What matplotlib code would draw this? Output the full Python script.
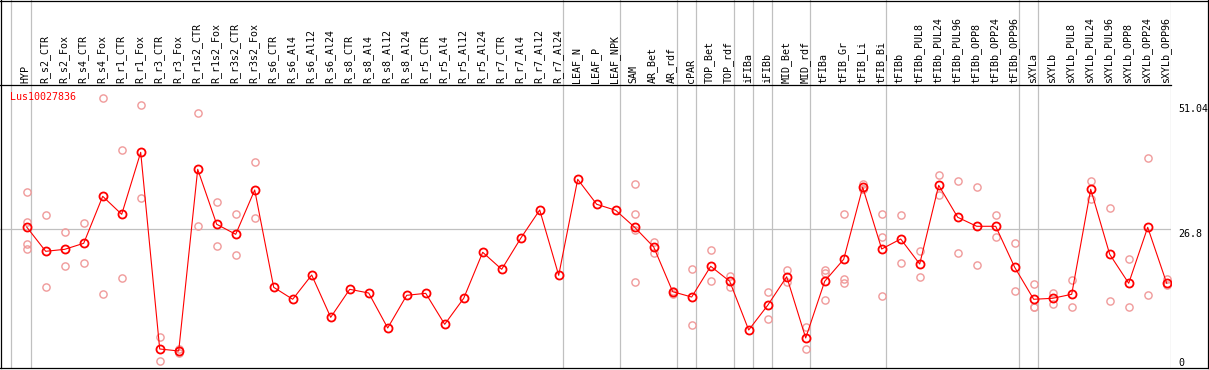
import matplotlib
matplotlib.use("Agg")
import matplotlib.pyplot as plt
from matplotlib.lines import Line2D
from matplotlib.transforms import blended_transform_factory

# ---------------- data ----------------
gene = "Lus10027836"
categories = [
    "HYP", "R_s2_CTR", "R_s2_Fox", "R_s4_CTR", "R_s4_Fox", "R_r1_CTR", "R_r1_Fox",
    "R_r3_CTR", "R_r3_Fox", "R_r1s2_CTR", "R_r1s2_Fox", "R_r3s2_CTR", "R_r3s2_Fox",
    "R_s6_CTR", "R_s6_Al4", "R_s6_Al12", "R_s6_Al24", "R_s8_CTR", "R_s8_Al4",
    "R_s8_Al12", "R_s8_Al24", "R_r5_CTR", "R_r5_Al4", "R_r5_Al12", "R_r5_Al24",
    "R_r7_CTR", "R_r7_Al4", "R_r7_Al12", "R_r7_Al24", "LEAF_N", "LEAF_P", "LEAF_NPK",
    "SAM", "AR_Bet", "AR_rdf", "cPAR", "TOP_Bet", "TOP_rdf", "iFIBa", "iFIBb",
    "MID_Bet", "MID_rdf", "tFIBa", "tFIB_Gr", "tFIB_Li", "tFIB_Bi", "tFIBb",
    "tFIBb_PUL8", "tFIBb_PUL24", "tFIBb_PUL96", "tFIBb_OPP8", "tFIBb_OPP24",
    "tFIBb_OPP96", "sXYLa", "sXYLb", "sXYLb_PUL8", "sXYLb_PUL24", "sXYLb_PUL96",
    "sXYLb_OPP8", "sXYLb_OPP24", "sXYLb_OPP96",
]
mean_values = [
    27.10, 22.37, 22.76, 23.93, 33.07, 29.57, 41.63, 3.37, 2.98, 38.33,
    27.63, 25.68, 34.30, 15.37, 13.04, 17.76, 9.53, 14.98, 14.26, 7.45,
    13.81, 14.20, 8.17, 13.23, 22.18, 18.87, 24.90, 30.41, 17.70, 36.38,
    31.52, 30.35, 27.04, 23.21, 14.51, 13.48, 19.46, 16.54, 7.06, 11.87,
    17.43, 5.51, 16.54, 20.82, 34.82, 22.82, 24.77, 19.90, 35.21, 28.99,
    27.24, 27.24, 19.26, 13.04, 13.23, 14.01, 34.44, 21.79, 16.15, 27.04,
    16.15,
]
replicates = {
    "HYP": [33.85, 28.07, 23.74, 22.76],
    "R_s2_CTR": [29.38, 15.43],
    "R_s2_Fox": [26.07, 19.46],
    "R_s4_CTR": [27.82, 20.04],
    "R_s4_Fox": [52.14, 14.07],
    "R_r1_CTR": [42.02, 17.12],
    "R_r1_Fox": [50.78, 32.68],
    "R_r3_CTR": [5.70, 1.03],
    "R_r3_Fox": [3.31, 2.53],
    "R_r1s2_CTR": [49.22, 27.24],
    "R_r1s2_Fox": [31.91, 23.35],
    "R_r3s2_CTR": [29.57, 21.60],
    "R_r3s2_Fox": [39.69, 28.79],
    "SAM": [35.41, 29.57, 26.52, 16.40],
    "AR_Bet": [24.24, 22.10],
    "AR_rdf": [14.65, 14.01],
    "cPAR": [18.87, 7.98],
    "TOP_Bet": [22.57, 16.60],
    "TOP_rdf": [17.57, 15.49],
    "iFIBb": [14.40, 9.26],
    "MID_Bet": [18.68, 16.40],
    "MID_rdf": [7.59, 3.31],
    "tFIBa": [18.68, 18.21, 12.90],
    "tFIB_Gr": [29.57, 16.98, 16.15],
    "tFIB_Li": [35.41, 34.55, 34.49],
    "tFIB_Bi": [29.57, 25.10, 13.68],
    "tFIBb": [29.38, 20.04],
    "tFIBb_PUL8": [22.37, 17.37],
    "tFIBb_PUL24": [37.16, 33.27],
    "tFIBb_PUL96": [35.99, 21.98],
    "tFIBb_OPP8": [34.82, 19.65],
    "tFIBb_OPP24": [29.38, 25.10],
    "tFIBb_OPP96": [23.93, 14.59],
    "sXYLa": [15.95, 11.60, 11.54],
    "sXYLb": [14.20, 12.18],
    "sXYLb_PUL8": [16.73, 11.48],
    "sXYLb_PUL24": [35.99, 32.61],
    "sXYLb_PUL96": [30.74, 12.65],
    "sXYLb_OPP8": [20.82, 11.48],
    "sXYLb_OPP24": [40.47, 13.81],
    "sXYLb_OPP96": [16.93, 15.76],
}
group_ends = ["HYP", "R_r7_Al24", "LEAF_NPK", "AR_rdf", "cPAR", "TOP_rdf", "iFIBa",
              "iFIBb", "MID_rdf", "tFIB_Bi", "tFIBb_OPP96", "sXYLa", "sXYLb_OPP96"]
y_ticks = [51.04, 26.8, 0]

# ---------------- layout ----------------
W, H = 1209, 370
fig = plt.figure(figsize=(W / 100, H / 100), dpi=100)
font = "DejaVu Sans Mono"
fs = 7.2

x_step = 19.0          # px per category
x0_px = 26.7           # px of first category
plot_right_px = 1170.7
header_px = 85
bottom_px = 368

xmin = -x0_px / x_step
xmax = (plot_right_px - x0_px) / x_step

ax = fig.add_axes([0, (H - bottom_px) / H, plot_right_px / W, (bottom_px - header_px) / H])
hx = fig.add_axes([0, (H - header_px) / H, plot_right_px / W, header_px / H], sharex=ax)

px_per_unit = 5.14
zero_px = 366.3
ymin = -(bottom_px - zero_px) / px_per_unit
ymax = (zero_px - header_px) / px_per_unit
ax.set_ylim(ymin, ymax)
ax.set_xlim(xmin, xmax)
hx.set_ylim(0, 1)

for a in (ax, hx):
    a.set_xticks([])
    a.set_yticks([])
    for s in a.spines.values():
        s.set_visible(False)
    a.patch.set_alpha(0)

hx.spines["bottom"].set_visible(True)
hx.spines["bottom"].set_color("black")
hx.spines["bottom"].set_linewidth(0.9)

grey = "#c0c0c0"
# vertical group separators
sep_off = 4 / x_step
sep_positions = [categories.index(c) + sep_off for c in group_ends]
sep_positions.append(-16 / x_step)
for xp in sep_positions:
    ax.axvline(xp, color=grey, lw=0.9, zorder=1)
    hx.axvline(xp, color=grey, lw=0.9, zorder=1)

# horizontal grid at middle tick
ax.axhline(y_ticks[1], color=grey, lw=0.9, zorder=1)

# outer frame
frame = dict(color="black", lw=0.9, transform=fig.transFigure)
fig.add_artist(Line2D([0.5 / W, 0.5 / W], [(H - bottom_px) / H, 1], **frame))
fig.add_artist(Line2D([1208 / W, 1208 / W], [(H - bottom_px) / H, 1], **frame))
fig.add_artist(Line2D([0, 1], [1 - 0.5 / H, 1 - 0.5 / H], **frame))
fig.add_artist(Line2D([0, 1208 / W], [(H - bottom_px) / H, (H - bottom_px) / H], **frame))

# replicate points
rep_color = "#f09a9a"
for name, vals in replicates.items():
    i = categories.index(name)
    ax.plot([i] * len(vals), vals, linestyle="none", marker="o", ms=5.2,
            mfc="none", mec=rep_color, mew=1.0, zorder=2)

# mean line
xs = list(range(len(categories)))
ax.plot(xs, mean_values, color="#ff0000", lw=0.8, zorder=3)
ax.plot(xs, mean_values, linestyle="none", marker="o", ms=5.8, mfc="none",
        mec="#ff0000", mew=1.3, zorder=4)

# category labels
for i, c in enumerate(categories):
    hx.text(i - 0.05, 2 / header_px, c, rotation=90, ha="center", va="bottom",
            fontsize=fs, family=font, color="black", rotation_mode="default")

# gene label
ax.text(10 / plot_right_px, 1 - (100 - header_px) / (bottom_px - header_px), gene,
        transform=ax.transAxes, ha="left", va="baseline", fontsize=fs,
        family=font, color="#ff0000")

# right-hand value labels
tr = blended_transform_factory(fig.transFigure, ax.transData)
ax.text(1178 / W, y_ticks[0], f"{y_ticks[0]:g}", transform=tr, ha="left", va="top",
        fontsize=fs, family=font, clip_on=False)
ax.text(1178 / W, y_ticks[1], f"{y_ticks[1]:g}", transform=tr, ha="left", va="top",
        fontsize=fs, family=font, clip_on=False)
ax.text(1178 / W, y_ticks[2], f"{y_ticks[2]:g}", transform=tr, ha="left", va="baseline",
        fontsize=fs, family=font, clip_on=False)

fig.savefig("out.png", dpi=100)
